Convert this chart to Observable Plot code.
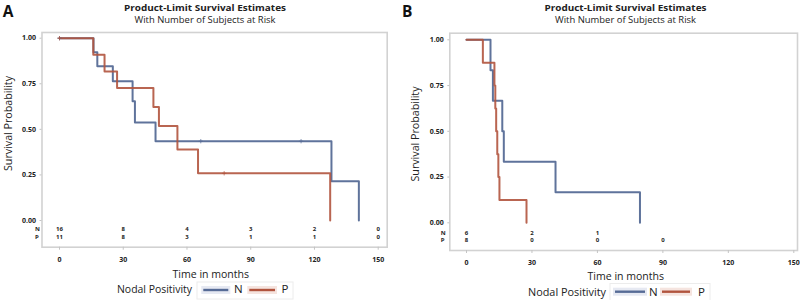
<!DOCTYPE html>
<html><head><meta charset="utf-8">
<script src="https://cdn.jsdelivr.net/npm/d3@7"></script>
<script src="https://cdn.jsdelivr.net/npm/@observablehq/plot@0.6"></script>
<style>
html,body{margin:0;padding:0;background:#fff;}
#wrap{position:relative;width:800px;height:300px;overflow:hidden;font-family:"Open Sans",sans-serif;}
.panel{position:absolute;top:0;}
#overlay{position:absolute;left:0;top:0;pointer-events:none;}
</style></head><body><div id="wrap"></div>
<script>
// ---------- data ----------
const ticksX = [0, 30, 60, 90, 120, 150];
const ticksY = [0, 0.25, 0.5, 0.75, 1];
const groups = ["N", "P"];

// Panel A
const aNTime = [0, 16.0, 17.8, 25.1, 34.4, 35.5, 45.2, 128.0, 140.9];
const aNSurv = [1, 0.923, 0.846, 0.764, 0.654, 0.538, 0.435, 0.215, 0];
const aPTime = [0, 15.9, 21.2, 27.1, 44.2, 46.8, 55.5, 65.2, 127.4];
const aPSurv = [1, 0.909, 0.818, 0.727, 0.623, 0.519, 0.389, 0.259, 0];
const aNCensor = [0, 66.5, 113.7];
const aPCensor = [0, 77.5];
const aRiskN = [16, 8, 4, 3, 2, 0];
const aRiskP = [11, 8, 3, 1, 1, 0];

// Panel B
const bNTime = [0, 11.0, 12.1, 16.4, 17.1, 40.8, 79.5];
const bNSurv = [1, 0.833, 0.667, 0.5, 0.333, 0.167, 0];
const bPTime = [0, 7.5, 12.8, 13.2, 13.6, 14.1, 14.6, 15.1, 27.5];
const bPSurv = [1, 0.875, 0.75, 0.625, 0.5, 0.375, 0.25, 0.125, 0];
const bNCensor = [];
const bPCensor = [];
const bRiskN = [6, 2, 1, null, null, null];
const bRiskP = [8, 0, 0, 0, null, null];

const titleText = "Product-Limit Survival Estimates";
const subtitleText = "With Number of Subjects at Risk";
const xTitle = "Time in months";
const yTitle = "Survival Probability";
const legendTitle = "Nodal Positivity";

const BLUE = "#566b96", RED = "#b1543e";
const BLUE_HALO = "#e6e9f2", RED_HALO = "#f5e4df";
const FONT = '"Open Sans", sans-serif';

// ---------- helpers ----------
function survAt(times, survs, t) {
  let s = survs[0];
  for (let i = 0; i < times.length; i++) if (times[i] <= t) s = survs[i];
  return s;
}
function curve(times, survs) { return times.map((t, i) => ({t, s: survs[i]})); }
function censors(list, times, survs) { return list.map(t => ({t, s: survAt(times, survs, t)})); }
function risk(vals) { return ticksX.map((t, i) => ({t, n: vals[i]})).filter(d => d.n !== null); }

function panel(cfg) {
  return Plot.plot({
    width: 400, height: 300,
    marginLeft: cfg.ml, marginRight: cfg.mr, marginTop: cfg.mt, marginBottom: cfg.mb,
    style: {fontFamily: FONT, fontWeight: 700, background: "transparent", color: "#222", overflow: "visible"},
    x: {domain: [0, 150], range: cfg.xr, label: null},
    y: {domain: [0, 1], range: cfg.yr, label: null},
    marks: [
      Plot.frame({stroke: "#d2d2d2", strokeWidth: 1.6}),
      Plot.axisX({ticks: ticksX, tickSize: 3, tickPadding: 7, stroke: "#c4c4c4", fill: "#222", fontSize: 7, label: null}),
      Plot.axisY({ticks: ticksY, tickFormat: d3.format(".2f"), tickSize: 2, tickPadding: 4, stroke: "#c4c4c4", fill: "#222", fontSize: 7, label: null}),
      Plot.line(curve(cfg.nT, cfg.nS), {x: "t", y: "s", curve: "step-after", stroke: BLUE, strokeWidth: 2, strokeOpacity: 0.95}),
      Plot.line(curve(cfg.pT, cfg.pS), {x: "t", y: "s", curve: "step-after", stroke: RED, strokeWidth: 2, strokeOpacity: 0.9}),
      Plot.dot(censors(cfg.nC, cfg.nT, cfg.nS), {x: "t", y: "s", symbol: "plus", r: 1.5, stroke: BLUE, strokeWidth: 0.9, strokeOpacity: 0.8}),
      Plot.dot(censors(cfg.pC, cfg.pT, cfg.pS), {x: "t", y: "s", symbol: "plus", r: 1.5, stroke: RED, strokeWidth: 0.9, strokeOpacity: 0.8}),
      Plot.text(risk(cfg.rN), {x: "t", text: "n", frameAnchor: "bottom", dy: cfg.dyN, fontSize: 6, fill: "#222"}),
      Plot.text(risk(cfg.rP), {x: "t", text: "n", frameAnchor: "bottom", dy: cfg.dyP, fontSize: 6, fill: "#222"}),
      Plot.text([groups[0]], {text: d => d, frameAnchor: "bottom-left", dx: cfg.dxL, dy: cfg.dyN, fontSize: 6, fill: "#222"}),
      Plot.text([groups[1]], {text: d => d, frameAnchor: "bottom-left", dx: cfg.dxL, dy: cfg.dyP, fontSize: 6, fill: "#222"})
    ]
  });
}

const wrap = document.getElementById("wrap");

const pa = panel({nT: aNTime, nS: aNSurv, pT: aPTime, pS: aPSurv, nC: aNCensor, pC: aPCensor, rN: aRiskN, rP: aRiskP,
  ml: 41.5, mr: 13.3, mt: 32, mb: 53.3, xr: [59, 377.7], yr: [220, 37.7], dyN: -16, dyP: -8.5, dxL: -7});
pa.classList.add("panel"); pa.style.left = "0px";
wrap.appendChild(pa);

const pb = panel({nT: bNTime, nS: bNSurv, pT: bPTime, pS: bPSurv, nC: bNCensor, pC: bPCensor, rN: bRiskN, rP: bRiskP,
  ml: 49.3, mr: 3, mt: 32.7, mb: 50, xr: [66, 393.3], yr: [222.3, 39.3], dyN: -16, dyP: -8.3, dxL: -9});
pb.classList.add("panel"); pb.style.left = "400px";
wrap.appendChild(pb);

// ---------- titles & legends overlay ----------
const svg = d3.select(wrap).append("svg").attr("id", "overlay").attr("width", 800).attr("height", 300)
  .style("font-family", FONT);

function txt(o) {
  const t = svg.append("text").text(o.t)
    .attr("font-size", o.size).attr("font-weight", o.weight || 400).attr("fill", o.fill || "#222")
    .attr("text-anchor", o.anchor || "middle");
  if (o.len) t.attr("textLength", o.len).attr("lengthAdjust", "spacingAndGlyphs");
  if (o.rotate) {
    t.attr("dominant-baseline", "central").attr("transform", `translate(${o.x},${o.y}) rotate(-90)`);
  } else {
    t.attr("x", o.x).attr("y", o.y);
  }
  return t;
}

const layouts = [
  {letter: "A", lx: 2.7, tcx: 205, ycx: 7.5, ycy: 123.5, xcx: 210.8, xby: 278.3,
   legL: 117, legR: 192, legBy: 293.3, legY: 290, box: [197, 282, 96, 17],
   bl: [203.3, 228.3], nl: 234, rl: [249.3, 275], pl: 281.5},
  {letter: "B", lx: 402, tcx: 625.5, ycx: 414, ycy: 134, xcx: 625.8, xby: 280,
   legL: 528, legR: 606, legBy: 295.5, legY: 291.7, box: [610, 283.5, 100, 17],
   bl: [615, 645], nl: 649, rl: [662, 690], pl: 698}
];

layouts.forEach(L => {
  txt({t: L.letter, x: L.lx, y: 16.8, size: 15.5, weight: 700, anchor: "start", fill: "#111"});
  txt({t: titleText, x: L.tcx, y: 10.6, size: 9.6, weight: 700, len: 162});
  txt({t: subtitleText, x: L.tcx, y: 23.2, size: 9.6, weight: 400, len: 141});
  txt({t: yTitle, x: L.ycx, y: L.ycy, size: 11.5, rotate: true, len: 95});
  txt({t: xTitle, x: L.xcx, y: L.xby, size: 11.5, len: 76.5});
  txt({t: legendTitle, x: L.legL, y: L.legBy, size: 11.5, anchor: "start", len: L.legR - L.legL});
  svg.append("rect").attr("x", L.box[0]).attr("y", L.box[1]).attr("width", L.box[2]).attr("height", L.box[3])
    .attr("fill", "none").attr("stroke", "#ececec").attr("stroke-width", 1);
  [[L.bl, BLUE, BLUE_HALO], [L.rl, RED, RED_HALO]].forEach(([seg, c, h]) => {
    svg.append("rect").attr("x", seg[0] - 2).attr("y", L.legY - 4).attr("width", seg[1] - seg[0] + 4).attr("height", 8).attr("fill", h);
    svg.append("line").attr("x1", seg[0]).attr("x2", seg[1]).attr("y1", L.legY).attr("y2", L.legY)
      .attr("stroke", c).attr("stroke-width", 2.4);
  });
  txt({t: groups[0], x: L.nl, y: L.legBy, size: 11.5, anchor: "start"});
  txt({t: groups[1], x: L.pl, y: L.legBy, size: 11.5, anchor: "start"});
});
</script></body></html>
